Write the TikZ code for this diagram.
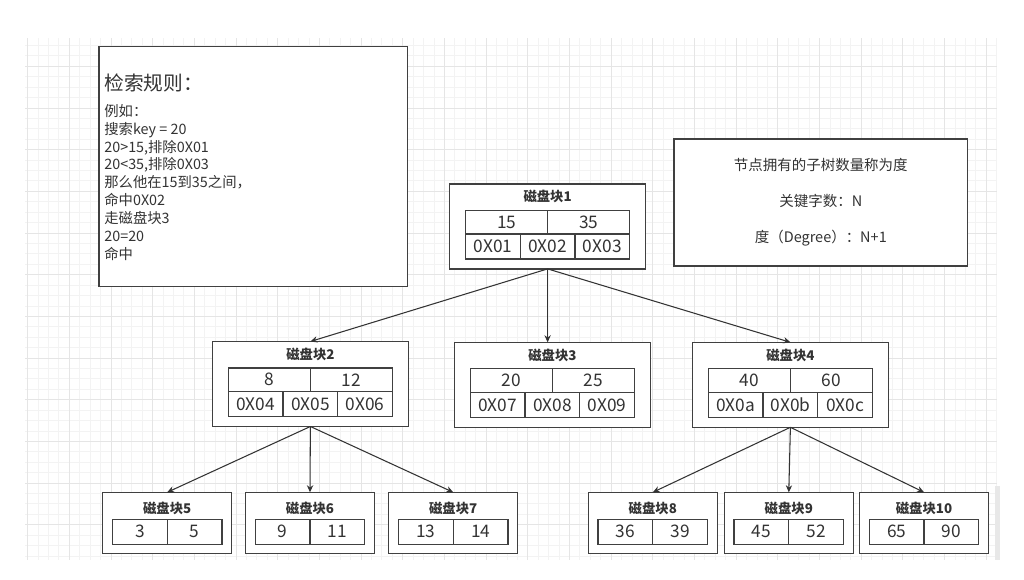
\documentclass[tikz,border=0pt]{standalone}
\usepackage{fontspec}
\setmainfont{Noto Sans CJK SC}
\usepackage{tikz}
\usetikzlibrary{arrows.meta,positioning}
\definecolor{gridminor}{HTML}{F3F3F3}
\definecolor{gridmajor}{HTML}{E5E5E5}
\definecolor{boxline}{HTML}{404040}
\definecolor{inktext}{HTML}{333333}

% inner block: name, position, title, two keys, three pointers
\newcommand{\innerblock}[8]{%
  \node[blockbox, minimum width=4.9cm, minimum height=2.125cm] (#1) at (#2) {};
  \node[blocktitle] (#1t) at ([yshift=-0.32cm]#1.north) {#3};
  \node[keycell, anchor=north west] (#1k1) at ([xshift=0.4cm,yshift=-0.6625cm]#1.north west) {#4};
  \node[keycell, right=0pt of #1k1] (#1k2) {#5};
  \node[ptrcell, anchor=north west] (#1p1) at (#1k1.south west) {#6};
  \node[ptrcell, right=0pt of #1p1] (#1p2) {#7};
  \node[ptrcell, right=0pt of #1p2] (#1p3) {#8};
}
% leaf block: name, position, title, two keys
\newcommand{\leafblock}[5]{%
  \node[blockbox, minimum width=3.225cm, minimum height=1.525cm] (#1) at (#2) {};
  \node[blocktitle] (#1t) at ([yshift=-0.4cm]#1.north) {#3};
  \node[leafcell, anchor=north west] (#1k1) at ([xshift=0.2425cm,yshift=-0.675cm]#1.north west) {#4};
  \node[leafcell, right=0pt of #1k1] (#1k2) {#5};
}

\begin{document}
\begin{tikzpicture}[
    gridline/.style={gridminor, line width=0.6pt},
    gridbold/.style={gridmajor, line width=0.6pt},
    blockbox/.style={rectangle, draw=boxline, line width=1pt, fill=white, inner sep=0pt, outer sep=0pt},
    blocktitle/.style={font=\fontsize{9.5}{11}\selectfont\bfseries, text=inktext, inner sep=0pt},
    keycell/.style={rectangle, draw=boxline, line width=0.9pt, inner sep=0pt, outer sep=0pt,
                    minimum width=2.05cm, minimum height=0.5875cm,
                    font=\fontsize{12.3}{13}\selectfont, text=inktext},
    ptrcell/.style={keycell, minimum width=1.3667cm, minimum height=0.625cm},
    leafcell/.style={keycell, minimum width=1.37cm, minimum height=0.625cm},
    notebox/.style={rectangle, draw=boxline, line width=1pt, fill=white, inner sep=0pt},
    link/.style={-{Stealth[length=5pt,width=4.5pt]}, draw=inktext, line width=0.75pt},
]
\useasboundingbox[fill=white] (0,0) rectangle (25.6,14.5);

% background grid
\begin{scope}
  \clip (0.625,0.5) rectangle (24.925,13.55);
  \foreach \k in {0,...,93}
    \draw[gridline] ({0.69+0.2605*\k},0.5) -- ++(0,13.05);
  \foreach \k in {0,...,53}
    \draw[gridline] (0.625,{13.885-0.2605*\k}) -- ++(24.3,0);
  \foreach \k in {0,4,...,92}
    \draw[gridbold] ({0.69+0.2605*\k},0.5) -- ++(0,13.05);
  \foreach \k in {0,4,...,52}
    \draw[gridbold] (0.625,{13.885-0.2605*\k}) -- ++(24.3,0);
\end{scope}
\fill[gray!18] (24.875,0.5) rectangle (25.0,2.35);

% notes
\node[notebox, minimum width=7.72cm, minimum height=6cm] (rulebox) at (6.33,10.33) {};
\node[anchor=west, inner sep=0pt, text=inktext, font=\fontsize{14}{16}\selectfont]
  (ruletitle) at ([xshift=0.15cm,yshift=-0.915cm]rulebox.north west) {检索规则：};
\node[anchor=north west, inner sep=0pt, align=left, text=inktext, font=\fontsize{10.2}{12.7}\selectfont]
  (ruletext) at ([xshift=0.15cm,yshift=-1.45cm]rulebox.north west)
  {例如：\\搜索key = 20\\20>15,排除0X01\\20<35,排除0X03\\那么他在15到35之间，\\命中0X02\\走磁盘块3\\20=20\\命中};

\node[notebox, minimum width=7.34cm, minimum height=3.175cm, align=center, text=inktext,
      font=\fontsize{10.3}{25.6}\selectfont] (degreebox) at (20.52,9.44)
  {节点拥有的子树数量称为度\\关键字数：N\\度（Degree）：N+1};

% disk blocks
\innerblock{b1}{13.69,8.84}{磁盘块1}{15}{35}{0X01}{0X02}{0X03}
\innerblock{b2}{7.76,4.90}{磁盘块2}{8}{12}{0X04}{0X05}{0X06}
\innerblock{b3}{13.81,4.88}{磁盘块3}{20}{25}{0X07}{0X08}{0X09}
\innerblock{b4}{19.76,4.88}{磁盘块4}{40}{60}{0X0a}{0X0b}{0X0c}

\leafblock{b5}{4.18,1.43}{磁盘块5}{3}{5}
\leafblock{b6}{7.75,1.43}{磁盘块6}{9}{11}
\leafblock{b7}{11.33,1.43}{磁盘块7}{13}{14}
\leafblock{b8}{16.32,1.43}{磁盘块8}{36}{39}
\leafblock{b9}{19.72,1.43}{磁盘块9}{45}{52}
\leafblock{b10}{23.10,1.43}{磁盘块10}{65}{90}

% pointers
\foreach \a/\b in {b1/b2, b1/b4, b2/b5, b2/b6, b2/b7, b4/b8, b4/b9, b4/b10}
  \draw[link] (\a.south) -- (\b.north);
\draw[link] (b1.south) -- (b1.south |- b3.north);
\end{tikzpicture}
\end{document}
